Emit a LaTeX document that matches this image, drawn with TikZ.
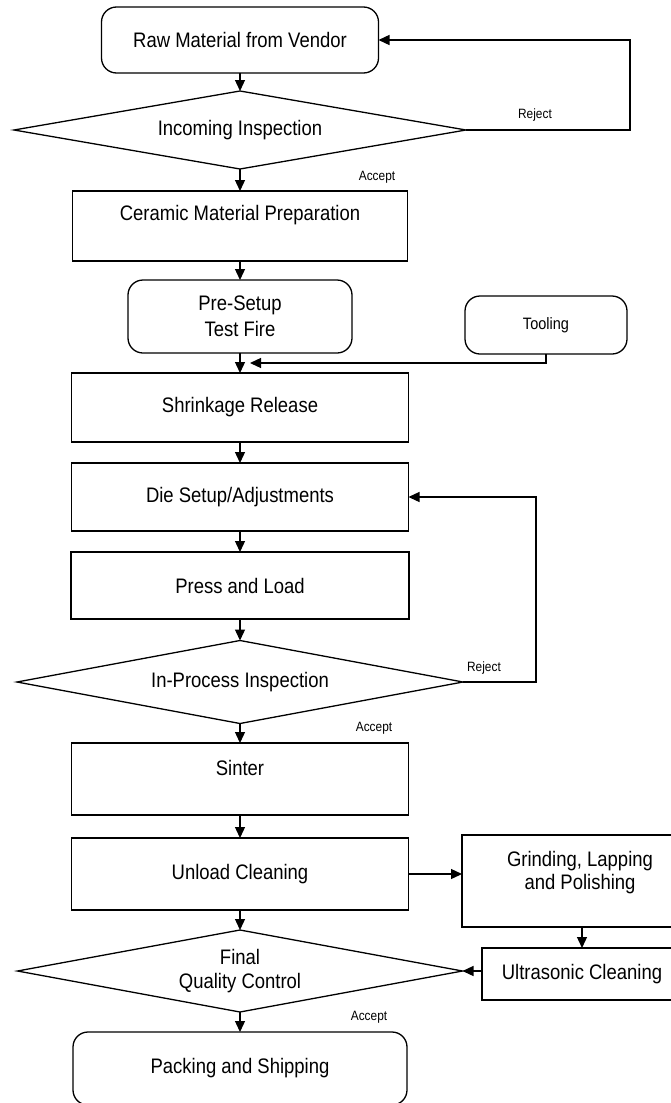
\documentclass[tikz,border=0pt]{standalone}
\usepackage{fontspec}
\setmainfont{Liberation Sans}[FakeStretch=0.88]
\usetikzlibrary{shapes.geometric,arrows.meta}

\tikzset{
  proc/.style={draw,rectangle,line width=1.3pt,inner sep=0pt,outer sep=0pt,
    align=center,font=\fontsize{21pt}{23pt}\selectfont},
  term/.style={proc,rounded corners=15pt},
  decide/.style={draw,diamond,aspect=5.6,line width=1.3pt,inner sep=0pt,outer sep=0pt,
    align=center,font=\fontsize{21pt}{23pt}\selectfont},
  flow/.style={line width=1.3pt,-{Triangle[length=11pt,width=10pt]}},
  tag/.style={font=\fontsize{13.5pt}{16pt}\selectfont},
  lift/.style={text height=15pt,text depth=#1}
}

\begin{document}
\begin{tikzpicture}[x=1pt,y=-1pt]
  \useasboundingbox (0,0) rectangle (671,1103);

  \node[term,minimum width=277pt,minimum height=66pt] (raw) at (240,40) {Raw Material from Vendor};
  \node[decide,minimum width=452pt,minimum height=78pt] (incoming) at (240,130) {Incoming Inspection};
  \node[proc,minimum width=335pt,minimum height=70pt,lift=26pt] (ceramic) at (240,226) {Ceramic Material Preparation};
  \node[term,minimum width=224pt,minimum height=73pt] (pre) at (240,316.5) {Pre-Setup\\[3pt]Test Fire};
  \node[term,minimum width=162pt,minimum height=58pt,font=\fontsize{16.5pt}{19pt}\selectfont] (tool) at (546,325) {Tooling};
  \node[proc,minimum width=337pt,minimum height=69pt] (shrink) at (240,407.5) {Shrinkage Release};
  \node[proc,minimum width=337pt,minimum height=68pt] (die) at (240,497) {Die Setup/Adjustments};
  \node[proc,minimum width=338pt,minimum height=67pt] (press) at (240,585.5) {Press and Load};
  \node[decide,minimum width=446pt,minimum height=83pt] (inproc) at (240,682) {In-Process Inspection};
  \node[proc,minimum width=337pt,minimum height=72pt,lift=22pt] (sinter) at (240,779) {Sinter};
  \node[proc,minimum width=337pt,minimum height=72pt] (unload) at (240,874) {Unload Cleaning};
  \node[proc,minimum width=236pt,minimum height=92pt,text height=38pt,text depth=21pt] (grind) at (580,881) {Grinding, Lapping\\and Polishing};
  \node[proc,minimum width=200pt,minimum height=52pt] (ultra) at (582,974) {Ultrasonic Cleaning};
  \node[decide,minimum width=445pt,minimum height=82pt] (final) at (240,971) {Final\\[1pt]Quality Control};
  \node[term,minimum width=334pt,minimum height=73pt] (pack) at (240,1068.5) {Packing and Shipping};

  \node[tag] (reject1) at (535,115) {Reject};
  \node[tag] (reject2) at (484,668) {Reject};
  \node[tag] (accept1) at (377,177) {Accept};
  \node[tag] (accept2) at (374,728) {Accept};
  \node[tag] (accept3) at (369,1017) {Accept};
  \coordinate (join) at (250,363);

  \draw[flow] (raw.south) -- (incoming.north);
  \draw[flow] (incoming.south) -- (ceramic.north);
  \draw[flow] (ceramic.south) -- (pre.north);
  \draw[flow] (pre.south) -- (shrink.north);
  \draw[flow] (shrink.south) -- (die.north);
  \draw[flow] (die.south) -- (press.north);
  \draw[flow] (press.south) -- (inproc.north);
  \draw[flow] (inproc.south) -- (sinter.north);
  \draw[flow] (sinter.south) -- (unload.north);
  \draw[flow] (unload.south) -- (final.north);
  \draw[flow] (final.south) -- (pack.north);

  \draw[flow] (incoming.east) -- ++(164,0) |- (raw.east);
  \draw[flow] (inproc.east) -- ++(73,0) |- (die.east);
  \draw[flow] (tool.south) -- (tool.south |- join) -- (join);
  \draw[flow] (unload.east) -- (unload.east -| grind.west);
  \draw[flow] (grind.south -| ultra.north) -- (ultra.north);
  \draw[flow] (ultra.west |- final.east) -- (final.east);
\end{tikzpicture}
\end{document}
